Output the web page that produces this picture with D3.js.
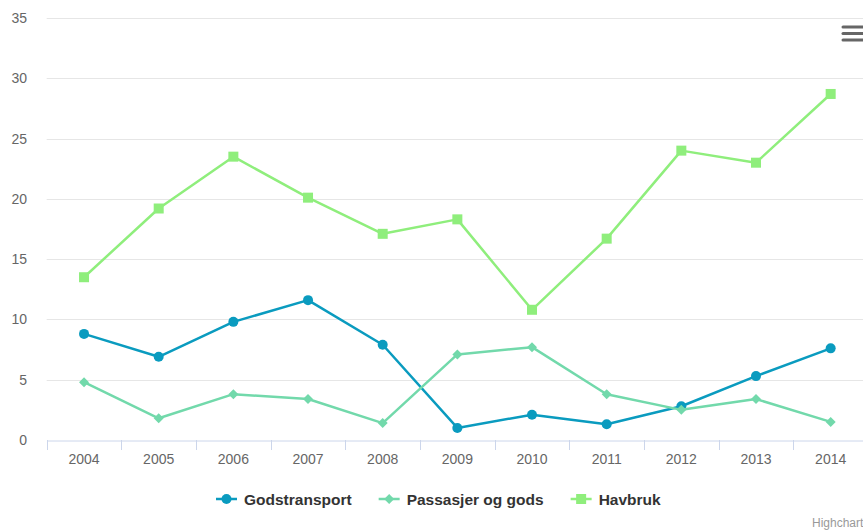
<!DOCTYPE html>
<html><head><meta charset="utf-8">
<script src="https://cdn.jsdelivr.net/npm/d3@7"></script>
<style>body{margin:0;background:#fff;overflow:hidden}svg{display:block;font-family:"Liberation Sans",Arial,sans-serif}</style>
</head><body><svg id="c" width="863" height="530"></svg>
<script>
const categories = ["2004","2005","2006","2007","2008","2009","2010","2011","2012","2013","2014"];
const godstransport = [8.8, 6.9, 9.8, 11.6, 7.9, 1.0, 2.1, 1.3, 2.8, 5.3, 7.6];
const passasjerOgGods = [4.8, 1.8, 3.8, 3.4, 1.4, 7.1, 7.7, 3.8, 2.5, 3.4, 1.5];
const havbruk = [13.5, 19.2, 23.5, 20.1, 17.1, 18.3, 10.8, 16.7, 24.0, 23.0, 28.7];
const yTicks = [0, 5, 10, 15, 20, 25, 30, 35];
const seriesNames = ["Godstransport", "Passasjer og gods", "Havbruk"];

(function () {
const series = [
  {name: seriesNames[0], values: godstransport, color: "#0a9bbf", symbol: "circle"},
  {name: seriesNames[1], values: passasjerOgGods, color: "#72d9ab", symbol: "diamond"},
  {name: seriesNames[2], values: havbruk, color: "#8fee7c", symbol: "square"}
];

const svg = d3.select("#c");
const pLeft = 46.7, pRight = 868, pTop = 18, pBottom = 440;
const x = d3.scaleBand().domain(categories).range([pLeft, pRight]);
const y = d3.scaleLinear().domain([0, 35]).range([pBottom, pTop]);

// gridlines
svg.append("g").selectAll("line").data(yTicks.filter(d => d > 0)).join("line")
  .attr("x1", pLeft).attr("x2", pRight)
  .attr("y1", d => Math.round(y(d)) + 0.5).attr("y2", d => Math.round(y(d)) + 0.5)
  .attr("stroke", "#e6e6e6").attr("stroke-width", 1);

// y labels
svg.append("g").selectAll("text").data(yTicks).join("text")
  .attr("x", 27).attr("y", d => y(d) + 5)
  .attr("text-anchor", "end").attr("font-size", 14).attr("fill", "#666")
  .text(d => d);

// x axis
const xAxis = d3.axisBottom(x).tickSize(0).tickPadding(14);
const gx = svg.append("g").attr("transform", `translate(0,${pBottom + 0.5})`).call(xAxis);
gx.select(".domain").attr("stroke", "#ccd6eb");
gx.selectAll("text").attr("font-size", 14).attr("fill", "#666").attr("font-family", "Liberation Sans, Arial, sans-serif");
const bounds = categories.map(c => x(c)).concat([pRight]);
svg.append("g").selectAll("line").data(bounds).join("line")
  .attr("x1", d => Math.round(d) + 0.5).attr("x2", d => Math.round(d) + 0.5)
  .attr("y1", pBottom).attr("y2", pBottom + 10)
  .attr("stroke", "#ccd6eb");

const cx = c => x(c) + x.bandwidth() / 2;

function drawMarker(g, sym, color, px, py) {
  if (sym === "circle") {
    g.append("circle").attr("cx", px).attr("cy", py).attr("r", 5).attr("fill", color);
  } else if (sym === "square") {
    g.append("rect").attr("x", px - 5).attr("y", py - 5).attr("width", 10).attr("height", 10).attr("fill", color);
  } else {
    g.append("path").attr("d", `M${px},${py - 5}L${px + 5},${py}L${px},${py + 5}L${px - 5},${py}Z`).attr("fill", color);
  }
}

const line = d3.line().x((d, i) => cx(categories[i])).y(d => y(d));
series.forEach(s => {
  const g = svg.append("g");
  g.append("path").attr("d", line(s.values)).attr("fill", "none")
    .attr("stroke", s.color).attr("stroke-width", 2.5).attr("stroke-linejoin", "round").attr("stroke-linecap", "round");
  s.values.forEach((v, i) => drawMarker(g, s.symbol, s.color, cx(categories[i]), y(v)));
});

// legend
const legend = svg.append("g");
let xpos = 0;
series.forEach(s => {
  const g = legend.append("g");
  g.append("line").attr("x1", 0).attr("x2", 21).attr("y1", 0).attr("y2", 0)
    .attr("stroke", s.color).attr("stroke-width", 2.5);
  drawMarker(g, s.symbol, s.color, 10.5, 0);
  const t = g.append("text").attr("x", 28).attr("y", 5.5).attr("font-size", 15.5)
    .attr("font-weight", "bold").attr("fill", "#333").text(s.name);
  const w = 28 + t.node().getComputedTextLength();
  g.attr("transform", `translate(${xpos},0)`);
  xpos += w + 27;
});
legend.attr("transform", `translate(216,499)`);

// credits
svg.append("text").attr("x", 812).attr("y", 527).attr("font-size", 12).attr("fill", "#999").text("Highcharts");

// menu icon
svg.append("g").selectAll("line").data([27, 33.5, 40]).join("line")
  .attr("x1", 843).attr("x2", 864).attr("y1", d => d).attr("y2", d => d)
  .attr("stroke", "#666").attr("stroke-width", 3).attr("stroke-linecap", "round");
})();
</script>
</body></html>
